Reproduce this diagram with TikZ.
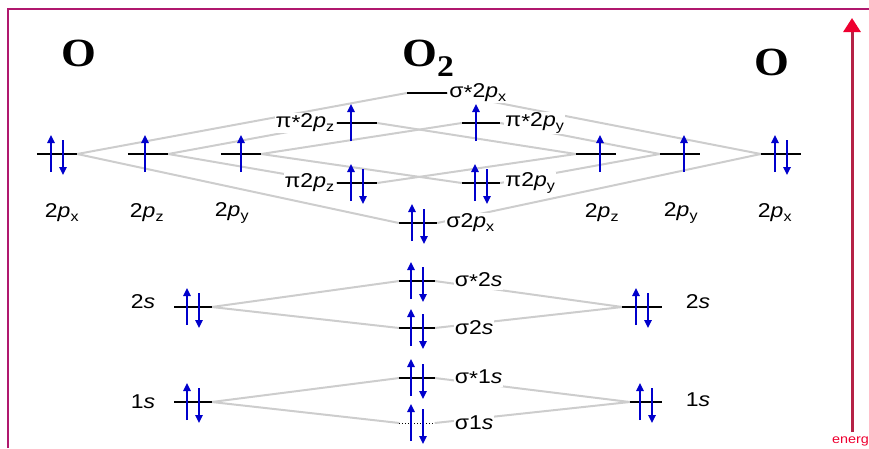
\documentclass[tikz,border=0pt]{standalone}
\usepackage{fontspec}
\setmainfont{Liberation Sans}[FakeStretch=1.15]
\newfontfamily\atomfont{Liberation Serif}[FakeStretch=1.12]
\usetikzlibrary{arrows.meta,positioning,calc}
\definecolor{framecol}{HTML}{B0186E}
\definecolor{corrgrey}{HTML}{CDCDCD}
\definecolor{spinblue}{HTML}{0000CC}
\definecolor{enline}{HTML}{B52246}
\definecolor{enhead}{HTML}{EE0030}
\tikzset{
  level/.style={rectangle,inner sep=0pt,minimum height=0pt,minimum width=40pt},
  levelline/.style={black,line width=1.3pt},
  corrline/.style={corrgrey,line width=2pt},
  spinup/.style={spinblue,line width=1.6pt,-{Triangle[length=8pt,width=7.5pt]}},
  spindown/.style={spinblue,line width=1.6pt,-{Triangle[length=8pt,width=7.5pt]}},
  orblab/.style={font=\fontsize{20}{20}\selectfont,inner sep=1pt},
  molab/.style={orblab,fill=white},
  atom/.style={font=\fontsize{40}{40}\selectfont\atomfont\bfseries,inner sep=0pt,anchor=base west},
  energyaxis/.style={enline,line width=3pt,-{Triangle[length=14pt,width=17pt,color=enhead]}}
}

\begin{document}
\begin{tikzpicture}[x=1pt,y=-1pt]
  \useasboundingbox (0,0) rectangle (869,448);
  % frame and energy axis
  \draw[framecol,line width=2pt] (8,448) -- (8,9) -- (869,9);
  \coordinate (enbot) at (852,432);
  \coordinate (entop) at (852,18);
  \draw[energyaxis] (enbot) -- (entop);
  \node[font=\fontsize{12.5}{12.5}\selectfont,text=enhead,anchor=east,inner sep=0pt] (enlab) at (869,441) {energ};

  % atoms and molecule
  \node[atom] (Oleft) at (61,66) {O};
  \node[atom] (Omol) at (402,66) {O\raisebox{-10pt}{\fontsize{30}{30}\selectfont 2}};
  \node[atom] (Oright) at (754,75) {O};

  % levels of the left atom
  \node[level] (a2px) at (57,154) {};
  \node[level] (a2pz) at (148,154) {};
  \node[level] (a2py) at (241,154) {};
  \node[level,minimum width=37pt] (a2s) at (193,307) {};
  \node[level,minimum width=37pt] (a1s) at (193,402) {};
  % levels of the right atom
  \node[level] (b2pz) at (596,154) {};
  \node[level] (b2py) at (680,154) {};
  \node[level] (b2px) at (781,154) {};
  \node[level,minimum width=39pt] (b2s) at (642,307) {};
  \node[level,minimum width=32pt] (b1s) at (646,402) {};
  % molecular levels
  \node[level] (sxs2px) at (427,93) {};
  \node[level] (pxs2pz) at (357,123) {};
  \node[level,minimum width=38pt] (pxs2py) at (481,123) {};
  \node[level] (pi2pz) at (357,183) {};
  \node[level,minimum width=38pt] (pi2py) at (481,183) {};
  \node[level,minimum width=38pt] (sig2px) at (418,223) {};
  \node[level,minimum width=35pt] (sxs2s) at (417,281) {};
  \node[level,minimum width=35pt] (sig2s) at (417,328) {};
  \node[level,minimum width=35pt] (sxs1s) at (417,378) {};
  \node[level,minimum width=35pt] (sig1s) at (417,423) {};

  % correlation lines
  \foreach \p/\q in {a2px/sxs2px,a2px/sig2px,a2pz/pxs2pz,a2pz/pi2pz,a2py/pxs2py,a2py/pi2py,
                     sxs2px/b2px,sig2px/b2px,pxs2pz/b2pz,pi2pz/b2pz,pxs2py/b2py,pi2py/b2py,
                     a2s/sxs2s,a2s/sig2s,sxs2s/b2s,sig2s/b2s,
                     a1s/sxs1s,a1s/sig1s,sxs1s/b1s,sig1s/b1s}
    \draw[corrline] (\p.east) -- (\q.west);

  % level lines
  \foreach \n in {a2px,a2pz,a2py,a2s,a1s,b2pz,b2py,b2px,b2s,b1s,
                  sxs2px,pxs2pz,pxs2py,pi2pz,pi2py,sig2px,sxs2s,sig2s,sxs1s}
    \draw[levelline] (\n.west) -- (\n.east);
  \draw[levelline,line width=1pt,dotted] (sig1s.west) -- (sig1s.east);

  % electrons
  \foreach \n in {a2px,b2px,pi2pz,pi2py,sig2px,a2s,a1s,b2s,b1s,sxs2s,sig2s,sxs1s,sig1s}{
    \draw[spinup] ($(\n)+(-6,18)$) -- ($(\n)+(-6,-19)$);
    \draw[spindown] ($(\n)+(6,-14)$) -- ($(\n)+(6,21)$);
  }
  \foreach \n/\dx in {a2pz/-3,a2py/0,b2pz/4,b2py/4,pxs2pz/-6,pxs2py/-5}
    \draw[spinup] ($(\n)+(\dx,18)$) -- ($(\n)+(\dx,-19)$);

  % atomic labels
  \node[orblab] (a2pxlab) at (62,213) {2\textit{p}\textsubscript{x}};
  \node[orblab] (a2pzlab) at (147,213) {2\textit{p}\textsubscript{z}};
  \node[orblab] (a2pylab) at (232,213) {2\textit{p}\textsubscript{y}};
  \node[orblab] (b2pzlab) at (602,213) {2\textit{p}\textsubscript{z}};
  \node[orblab] (b2pylab) at (681,213) {2\textit{p}\textsubscript{y}};
  \node[orblab] (b2pxlab) at (775,213) {2\textit{p}\textsubscript{x}};
  \node[orblab] (a2slab) at (143,302) {2\textit{s}};
  \node[orblab] (a1slab) at (143,402) {1\textit{s}};
  \node[orblab] (b2slab) at (698,302) {2\textit{s}};
  \node[orblab] (b1slab) at (698,400) {1\textit{s}};

  % molecular labels
  \node[molab,right=1pt of sxs2px] (sxs2pxlab) {σ\raisebox{-2pt}{*}2\textit{p}\textsubscript{x}};
  \node[molab,left=1pt of pxs2pz] (pxs2pzlab) {π\raisebox{-2pt}{*}2\textit{p}\textsubscript{z}};
  \node[molab,right=4pt of pxs2py] (pxs2pylab) {π\raisebox{-2pt}{*}2\textit{p}\textsubscript{y}};
  \node[molab,left=1pt of pi2pz] (pi2pzlab) {π2\textit{p}\textsubscript{z}};
  \node[molab,right=4pt of pi2py] (pi2pylab) {π2\textit{p}\textsubscript{y}};
  \node[molab,right=8pt of sig2px] (sig2pxlab) {σ2\textit{p}\textsubscript{x}};
  \node[molab,right=19pt of sxs2s] (sxs2slab) {σ\raisebox{-2pt}{*}2\textit{s}};
  \node[molab,right=19pt of sig2s] (sig2slab) {σ2\textit{s}};
  \node[molab,right=19pt of sxs1s] (sxs1slab) {σ\raisebox{-2pt}{*}1\textit{s}};
  \node[molab,right=19pt of sig1s] (sig1slab) {σ1\textit{s}};
\end{tikzpicture}
\end{document}
